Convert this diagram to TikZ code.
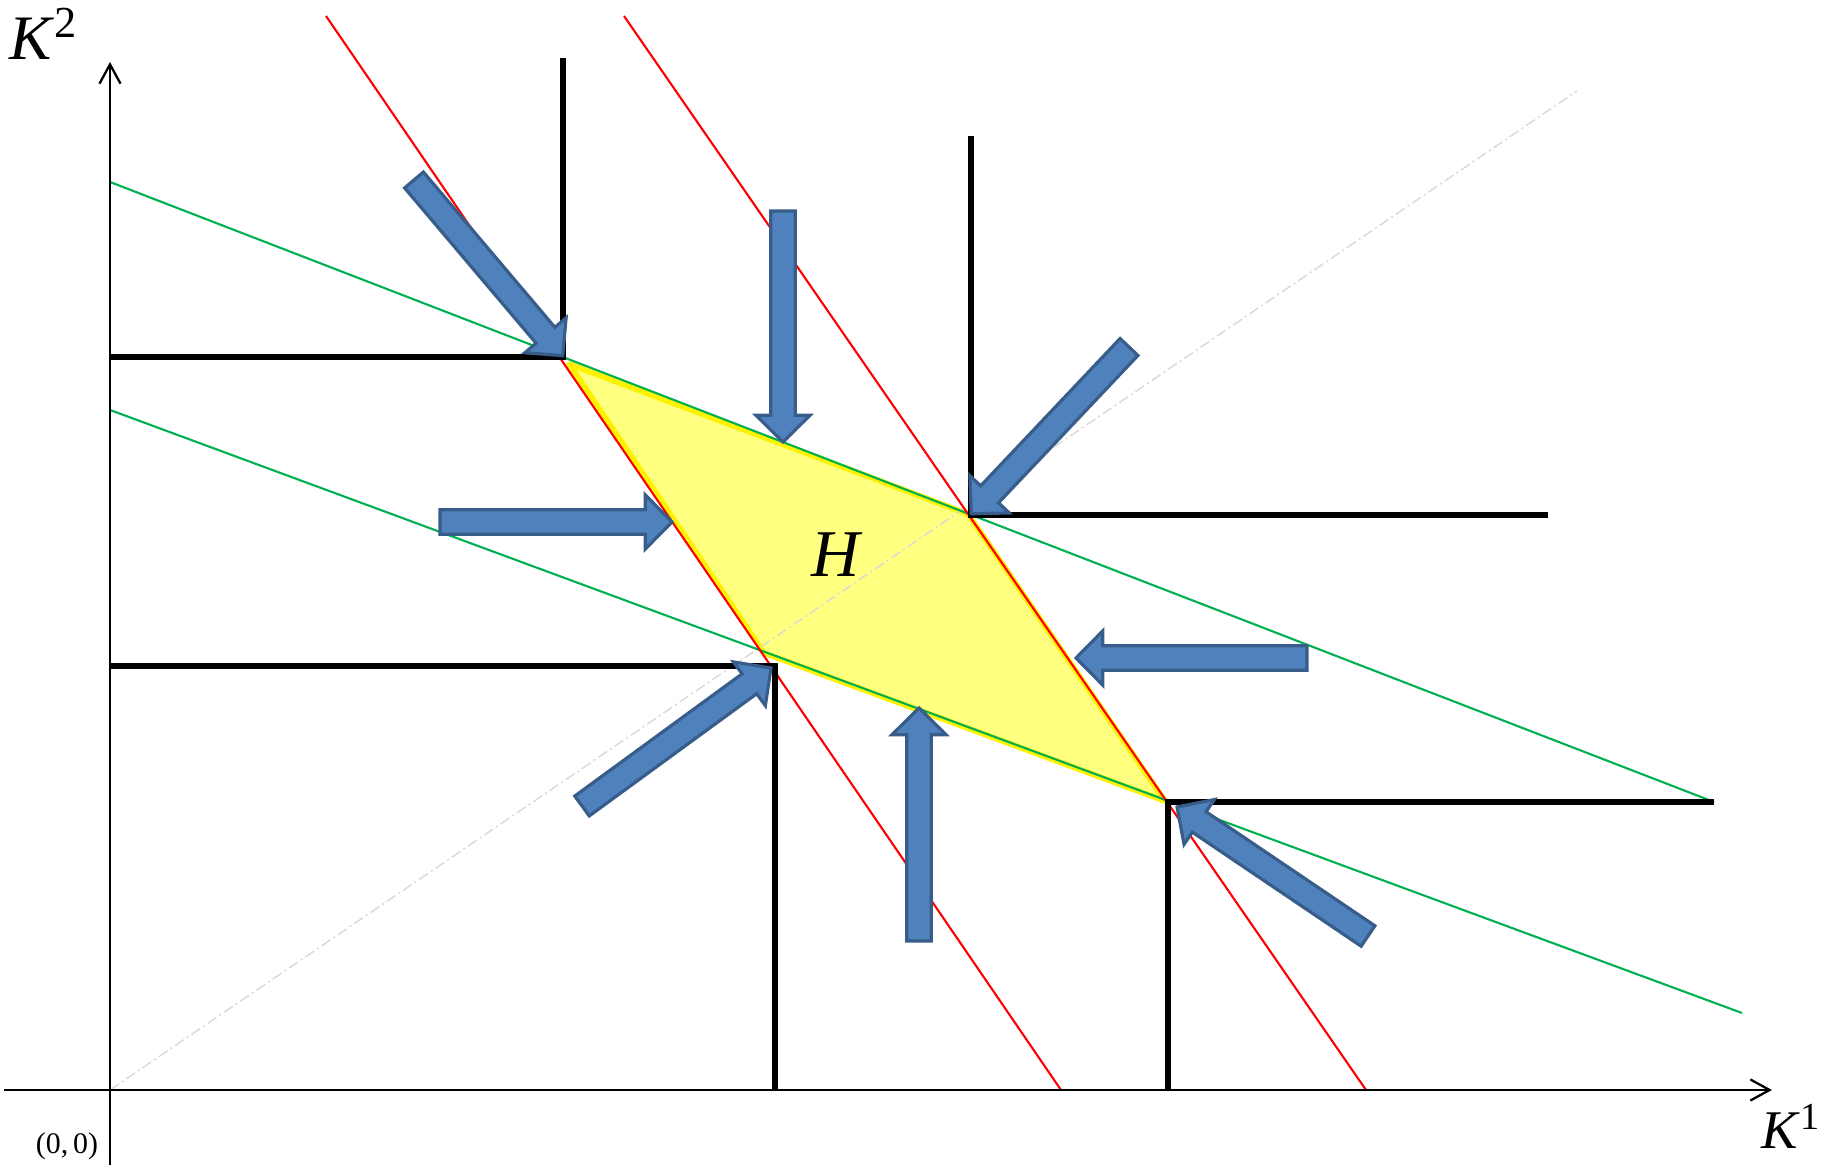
\documentclass[tikz,border=0pt]{standalone}
\usepackage{fontspec}
\setmainfont{Liberation Serif}
\usetikzlibrary{calc,arrows.meta}

\definecolor{arrfill}{HTML}{4F81BD}
\definecolor{arrline}{HTML}{385D8A}
\definecolor{budget}{HTML}{00B050}
\definecolor{hfill}{HTML}{FFFF80}
\definecolor{diag}{HTML}{D9D9D9}

% block arrow from tail #1 to tip #2
\newcommand{\pusharrow}[2]{%
  \path let \p1=($(#2)-(#1)$) in
    \pgfextra{\pgfmathsetmacro{\arrang}{atan2(\y1,\x1)}%
      \pgfmathsetmacro{\arrlen}{veclen(\x1,\y1)}%
      \xdef\arrangle{\arrang}\xdef\arrlength{\arrlen}};
  \filldraw[pusharr, shift={(#1)}, rotate=\arrangle]
    (0pt,-3.5pt) -- (\arrlength pt-7.6pt,-3.5pt) -- (\arrlength pt-7.6pt,-7.7pt)
    -- (\arrlength pt,0pt) -- (\arrlength pt-7.6pt,7.7pt)
    -- (\arrlength pt-7.6pt,3.5pt) -- (0pt,3.5pt) -- cycle;
}

\begin{document}
\begin{tikzpicture}[
    x=0.01cm, y=-0.01cm,
    axis/.style={line width=0.65pt, -{Straight Barb[length=5.5pt,width=6pt]}},
    corner/.style={line width=1.6pt, line join=miter},
    redline/.style={red, line width=0.6pt},
    greenline/.style={budget, line width=0.6pt},
    pusharr/.style={fill=arrfill, draw=arrline, line width=0.9pt, line join=miter},
    lbl/.style={inner sep=0pt}
]
    \useasboundingbox (0,0) rectangle (1825,1168);

    % corners of the Leontief curves
    \coordinate (cA) at (563,357);
    \coordinate (cB) at (971,515);
    \coordinate (cC) at (775,666);
    \coordinate (cD) at (1168,802);

    % region H
    \filldraw[fill=hfill, draw=yellow, line width=1.6pt, line join=round]
        (569,364) -- (968,514) -- (1165,801) -- (764,653) -- cycle;
    \node[lbl, anchor=base, font=\fontsize{19}{21}\selectfont] (H) at (837,577) {\textit{H}};

    % 45 degree line
    \draw[diag, line width=0.4pt, dash pattern=on 3pt off 1pt on 0.6pt off 1pt]
        (110,1090) -- (1577,91);

    % budget lines
    \draw[greenline] (110,182) -- (1714,802);
    \draw[greenline] (110,410) -- (1742,1013);
    \draw[redline] (326,16) -- (1061,1090);
    \draw[redline] (624,16) -- (1366,1090);

    % axes
    \draw[axis] (4,1090) -- (1772,1090);
    \draw[axis] (110,1165) -- (110,62);
    \node[lbl, anchor=base west, font=\fontsize{18}{20}\selectfont] (K2) at (9,60) {\textit{K}\textsuperscript{2}};
    \node[lbl, anchor=base west, font=\fontsize{15.5}{17}\selectfont] (K1) at (1761,1148) {\textit{K}\textsuperscript{1}};
    \node[lbl, anchor=base, font=\fontsize{8.5}{10}\selectfont] (O) at (67,1153) {(0,\,0)};

    % Leontief corners
    \draw[corner] (563,58) -- (cA) -- (110,357);
    \draw[corner] (971,136) -- (cB) -- (1548,515);
    \draw[corner] (110,666) -- (cC) -- (775,1090);
    \draw[corner] (1168,1090) -- (cD) -- (1714,802);

    % arrows pointing into H
    \coordinate (tail1) at (414,180);  \coordinate (tip1) at (563,356);
    \coordinate (tail2) at (783,211);  \coordinate (tip2) at (783,442);
    \coordinate (tail3) at (1129,347); \coordinate (tip3) at (971,514);
    \coordinate (tail4) at (440,522);  \coordinate (tip4) at (672,522);
    \coordinate (tail5) at (1307,658); \coordinate (tip5) at (1076,658);
    \coordinate (tail6) at (582,806);  \coordinate (tip6) at (771,668);
    \coordinate (tail7) at (919,941);  \coordinate (tip7) at (919,708);
    \coordinate (tail8) at (1368,936); \coordinate (tip8) at (1177,807);
    \pusharrow{tail1}{tip1}
    \pusharrow{tail2}{tip2}
    \pusharrow{tail3}{tip3}
    \pusharrow{tail4}{tip4}
    \pusharrow{tail5}{tip5}
    \pusharrow{tail6}{tip6}
    \pusharrow{tail7}{tip7}
    \pusharrow{tail8}{tip8}
\end{tikzpicture}
\end{document}
